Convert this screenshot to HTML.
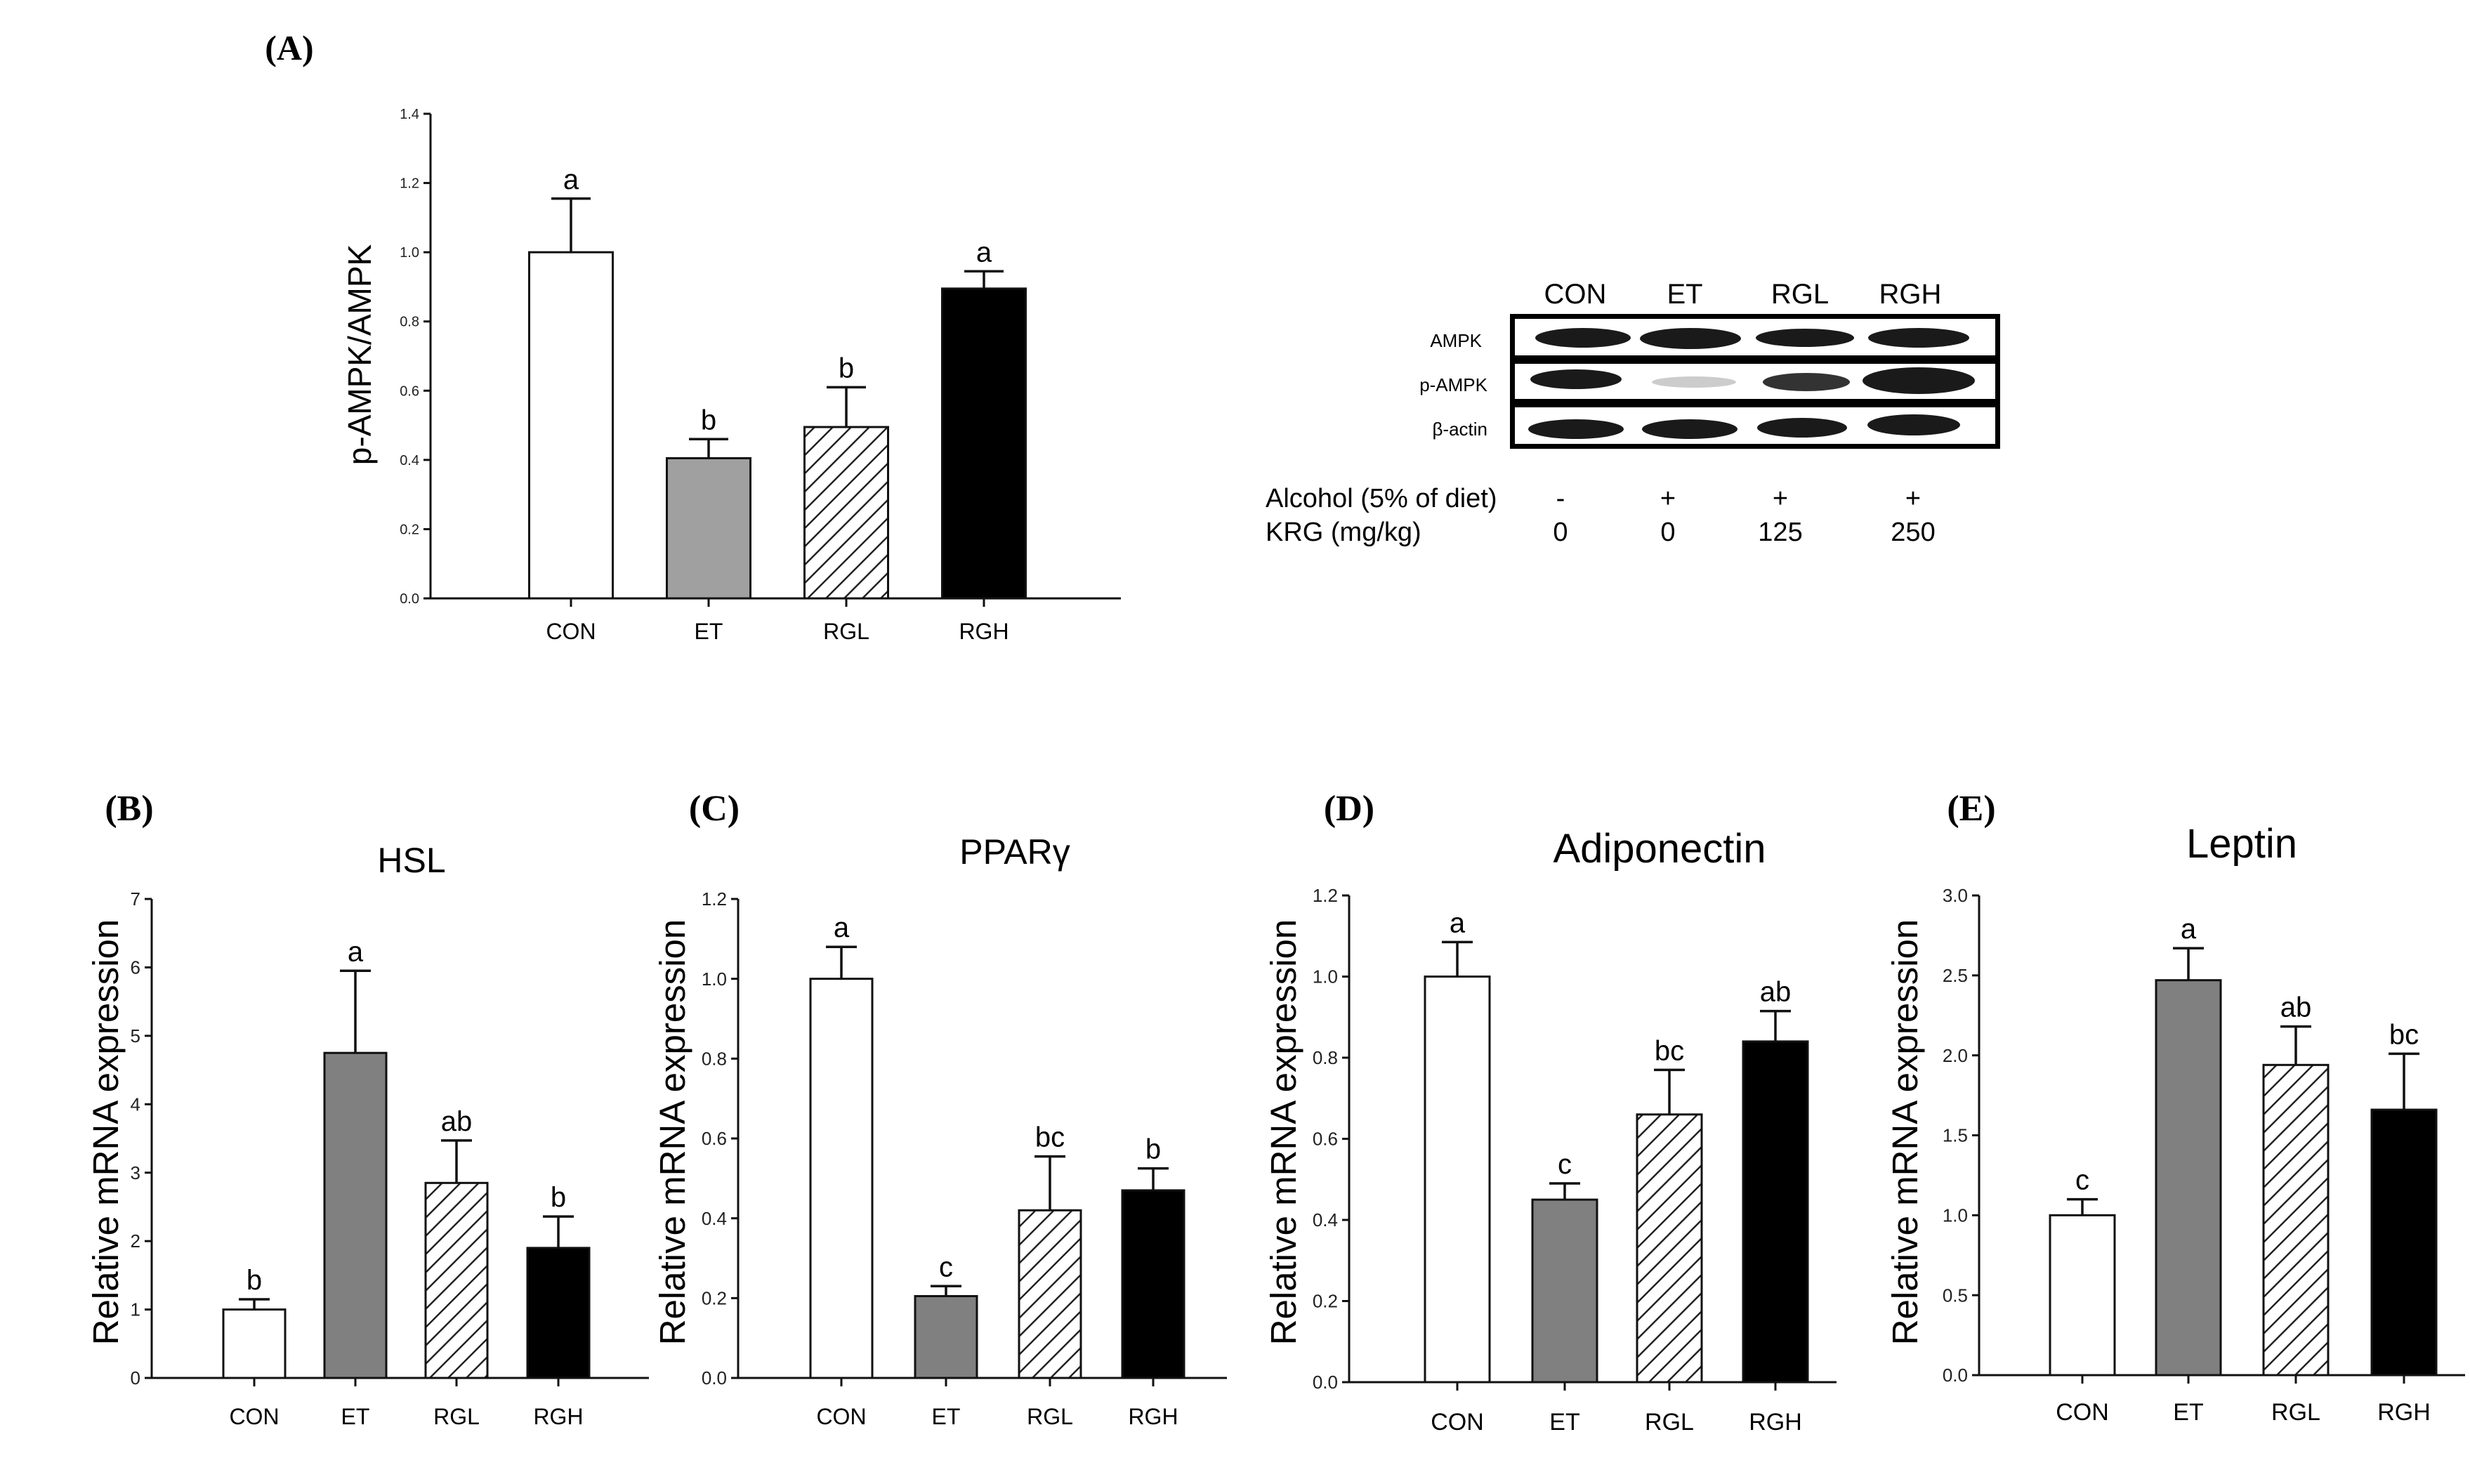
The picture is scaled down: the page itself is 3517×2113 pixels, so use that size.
<!DOCTYPE html>
<html><head><meta charset="utf-8"><style>
html,body{margin:0;padding:0;background:#fff;overflow:hidden;}
svg{display:block;}
text{font-family:"Liberation Sans",sans-serif;}
.n{font-family:"Liberation Sans Narrow","Liberation Sans",sans-serif;}
.s{font-family:"Liberation Serif",serif;font-weight:bold;}
</style></head><body>
<svg id="fig" width="3517" height="2113" viewBox="0 0 3517 2113" xmlns="http://www.w3.org/2000/svg">
<defs>
<pattern id="hatch" patternUnits="userSpaceOnUse" width="26" height="26">
<path d="M-2,28 L28,-2 M-15,15 L15,-15 M11,41 L41,11" stroke="#222" stroke-width="2.5"/>
</pattern>
</defs>
<g id="blot" transform="translate(-8,0)">
<text class="n" x="2251" y="432" font-size="40" text-anchor="middle">CON</text>
<text class="n" x="2407" y="432" font-size="40" text-anchor="middle">ET</text>
<text class="n" x="2571" y="432" font-size="40" text-anchor="middle">RGL</text>
<text class="n" x="2728" y="432" font-size="40" text-anchor="middle">RGH</text>
<rect x="2158" y="447" width="698" height="192" fill="#000"/>
<rect x="2165" y="454" width="684" height="52" fill="#fff"/>
<rect x="2165" y="518" width="684" height="50" fill="#fff"/>
<rect x="2165" y="580" width="684" height="52" fill="#fff"/>
<g fill="#1a1a1a">
<ellipse cx="2262" cy="481" rx="68" ry="14"/><ellipse cx="2415" cy="482" rx="72" ry="15"/><ellipse cx="2578" cy="481" rx="70" ry="13"/><ellipse cx="2740" cy="481" rx="72" ry="14"/>
<ellipse cx="2252" cy="540" rx="65" ry="14"/><ellipse cx="2420" cy="544" rx="60" ry="8" fill="#ccc"/><ellipse cx="2580" cy="544" rx="62" ry="13" fill="#333"/><ellipse cx="2740" cy="542" rx="80" ry="19"/>
<ellipse cx="2252" cy="611" rx="68" ry="14"/><ellipse cx="2414" cy="611" rx="68" ry="14"/><ellipse cx="2574" cy="609" rx="64" ry="14"/><ellipse cx="2733" cy="605" rx="66" ry="15"/>
</g>
<text class="n" x="2118" y="494" font-size="26" text-anchor="end">AMPK</text>
<text class="n" x="2126" y="557" font-size="26" text-anchor="end">p-AMPK</text>
<text class="n" x="2126" y="620" font-size="26" text-anchor="end">β-actin</text>
<text class="n" x="1810" y="722" font-size="38">Alcohol (5% of diet)</text>
<text class="n" x="1810" y="770" font-size="38">KRG (mg/kg)</text>
<text class="n" x="2230" y="722" font-size="38" text-anchor="middle">-</text>
<text class="n" x="2383" y="722" font-size="38" text-anchor="middle">+</text>
<text class="n" x="2543" y="722" font-size="38" text-anchor="middle">+</text>
<text class="n" x="2732" y="722" font-size="38" text-anchor="middle">+</text>
<text class="n" x="2230" y="770" font-size="38" text-anchor="middle">0</text>
<text class="n" x="2383" y="770" font-size="38" text-anchor="middle">0</text>
<text class="n" x="2543" y="770" font-size="38" text-anchor="middle">125</text>
<text class="n" x="2732" y="770" font-size="38" text-anchor="middle">250</text>
</g>
</svg>
<script>
const categories = ["CON","ET","RGL","RGH"];
const valsA = [1.0, 0.405, 0.495, 0.895];
const errA = [1.155, 0.46, 0.61, 0.945];
const lettersA = ["a","b","b","a"];
const ticksA = ["0.0","0.2","0.4","0.6","0.8","1.0","1.2","1.4"];
const valsB = [1.0, 4.75, 2.85, 1.9];
const errB = [1.15, 5.95, 3.47, 2.36];
const lettersB = ["b","a","ab","b"];
const ticksB = ["0","1","2","3","4","5","6","7"];
const valsC = [1.0, 0.205, 0.42, 0.47];
const errC = [1.08, 0.23, 0.555, 0.525];
const lettersC = ["a","c","bc","b"];
const ticksC = ["0.0","0.2","0.4","0.6","0.8","1.0","1.2"];
const valsD = [1.0, 0.45, 0.66, 0.84];
const errD = [1.085, 0.49, 0.77, 0.915];
const lettersD = ["a","c","bc","ab"];
const ticksD = ["0.0","0.2","0.4","0.6","0.8","1.0","1.2"];
const valsE = [1.0, 2.47, 1.94, 1.66];
const errE = [1.1, 2.67, 2.18, 2.01];
const lettersE = ["c","a","ab","bc"];
const ticksE = ["0.0","0.5","1.0","1.5","2.0","2.5","3.0"];

const NS = "http://www.w3.org/2000/svg";
const svg = document.getElementById("fig");
function mk(tag, attrs, parent){const e=document.createElementNS(NS,tag);for(const k in attrs)e.setAttribute(k,attrs[k]);(parent||svg).appendChild(e);return e;}

function panel(p){
  const g = mk("g",{});
  
  
  const ymax = parseFloat(p.ticks[p.ticks.length-1]);
  const y = v => p.y0 - (v/ymax)*(p.y0-p.y1);
  const lt = mk("text",{x:p.labX,y:p.labY,"font-size":p.labSize,"text-anchor":"middle",class:"s"},g);
  lt.textContent = p.label;
  
  
  if(p.title){
    const tt = mk("text",{x:p.titleX,y:p.titleY,"font-size":p.titleSize,"text-anchor":"middle"},g);
    tt.textContent = p.title;
    
    
  }
  const yt = mk("text",{x:0,y:0,"font-size":p.ytSize,"text-anchor":"middle",transform:`translate(${p.ytX},${p.ytY}) rotate(-90)`},g);
  yt.textContent = p.ytitle;
  
  
  const fills = [ "#fff", p.gray, "url(#hatch)", "#000"];
  p.vals.forEach((v,i)=>{
    const cx = p.cx[i];
    const r = mk("rect",{x:cx-p.bw/2,y:y(v),width:p.bw,height:p.y0-y(v),fill:fills[i],stroke:"#111","stroke-width":3},g);
    
    
    const e = mk("path",{d:`M${cx},${y(v)} V${y(p.err[i])} M${cx-p.cap},${y(p.err[i])} H${cx+p.cap}`,stroke:"#111","stroke-width":3.5,fill:"none"},g);
    
    
    const l = mk("text",{x:cx,y:y(p.err[i])-14,"font-size":p.letSize,"text-anchor":"middle",class:p.narrow?"n":""},g);
    l.textContent = p.letters[i];
    
    
    mk("line",{x1:cx,x2:cx,y1:p.y0,y2:p.y0+12,stroke:"#111","stroke-width":3},g);
    const c = mk("text",{x:cx,y:p.catY,"font-size":p.catSize,"text-anchor":"middle",class:p.narrow?"n":""},g);
    c.textContent = categories[i];
    
    
  });
  const ax = mk("path",{d:`M${p.x0},${p.y1} V${p.y0} H${p.xEnd}`,stroke:"#111","stroke-width":3,fill:"none"},g);
  
  
  p.ticks.forEach(t=>{
    const ty = y(parseFloat(t));
    mk("line",{x1:p.x0-10,x2:p.x0,y1:ty,y2:ty,stroke:"#111","stroke-width":3},g);
    const tl = mk("text",{x:p.x0-16,y:ty+p.tickSize*0.35,"font-size":p.tickSize,"text-anchor":"end",class:"n",fill:"#222"},g);
    tl.textContent = t;
    
    
  });
}

panel({name:"panel-a-p-ampk",label:"(A)",labX:412,labY:85,labSize:50,title:null,ytitle:"p-AMPK/AMPK",ytX:528,ytY:505,ytSize:46,
  x0:613,xEnd:1596,y0:852,y1:162,cx:[813,1009,1205,1401],bw:119,cap:28,vals:valsA,err:errA,letters:lettersA,ticks:ticksA,
  gray:"#a0a0a0",letSize:40,catY:910,catSize:32,tickSize:20,narrow:false});
panel({name:"panel-b-hsl",label:"(B)",labX:184,labY:1168,labSize:52,title:"HSL",titleX:586,titleY:1242,titleSize:50,ytitle:"Relative mRNA expression",ytX:168,ytY:1612,ytSize:51,
  x0:216,xEnd:924,y0:1962,y1:1280,cx:[362,506,650,795],bw:88,cap:22,vals:valsB,err:errB,letters:lettersB,ticks:ticksB,
  gray:"#808080",letSize:40,catY:2028,catSize:32,tickSize:26,narrow:true});
panel({name:"panel-c-ppar-gamma",label:"(C)",labX:1017,labY:1168,labSize:52,title:"PPARγ",titleX:1445,titleY:1230,titleSize:50,ytitle:"Relative mRNA expression",ytX:975,ytY:1612,ytSize:51,
  x0:1051,xEnd:1747,y0:1962,y1:1280,cx:[1198,1347,1495,1642],bw:88,cap:22,vals:valsC,err:errC,letters:lettersC,ticks:ticksC,
  gray:"#808080",letSize:40,catY:2028,catSize:32,tickSize:26,narrow:true});
panel({name:"panel-d-adiponectin",label:"(D)",labX:1921,labY:1168,labSize:52,title:"Adiponectin",titleX:2363,titleY:1228,titleSize:58,ytitle:"Relative mRNA expression",ytX:1845,ytY:1612,ytSize:51,
  x0:1921,xEnd:2615,y0:1968,y1:1275,cx:[2075,2228,2377,2528],bw:92,cap:22,vals:valsD,err:errD,letters:lettersD,ticks:ticksD,
  gray:"#808080",letSize:40,catY:2036,catSize:34,tickSize:26,narrow:true});
panel({name:"panel-e-leptin",label:"(E)",labX:2807,labY:1168,labSize:52,title:"Leptin",titleX:3192,titleY:1221,titleSize:58,ytitle:"Relative mRNA expression",ytX:2730,ytY:1612,ytSize:51,
  x0:2818,xEnd:3510,y0:1958,y1:1275,cx:[2965,3116,3269,3423],bw:92,cap:22,vals:valsE,err:errE,letters:lettersE,ticks:ticksE,
  gray:"#808080",letSize:40,catY:2022,catSize:34,tickSize:26,narrow:true});
</script>
</body></html>
